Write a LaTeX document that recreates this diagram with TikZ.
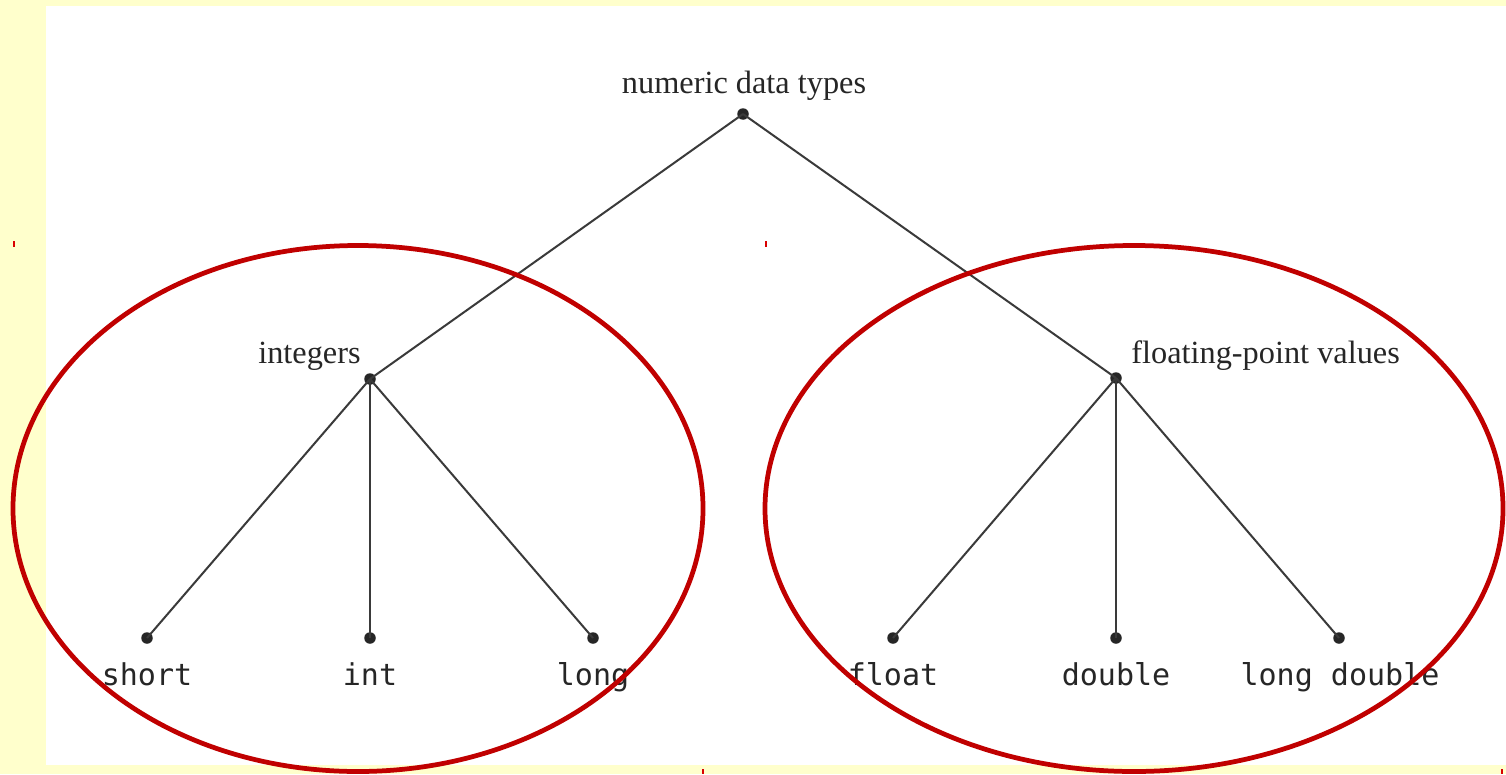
\documentclass[tikz,border=0pt]{standalone}
\usepackage{fontspec}
\setmainfont{Liberation Serif}
\newfontfamily\monof{DejaVu Sans Mono}
\definecolor{bgyellow}{HTML}{FFFFCC}
\definecolor{ovalred}{HTML}{C00000}
\definecolor{edgegray}{HTML}{3A3A3A}
\begin{document}
\begin{tikzpicture}[x=0.02cm,y=-0.02cm,
  dotnode/.style={circle,fill=black!85,inner sep=0pt,minimum size=0.23cm},
  edge/.style={draw=edgegray,line width=0.04cm},
  serlabel/.style={font=\fontsize{18.4}{20}\selectfont,inner sep=0pt,text=black!85},
  leaflabel/.style={font=\monof\fontsize{17.1}{19}\selectfont,inner sep=0pt,text=black!85,anchor=base},
  oval/.style={draw=ovalred,line width=0.095cm},
  tick/.style={draw=red!85!black,line width=0.04cm}]
\useasboundingbox (0,0) rectangle (1506,774);
\fill[bgyellow] (0,0) rectangle (1506,774);
\fill[white] (46,6) rectangle (1506,765);
% tiny marks
\draw[tick] (14,241) -- (14,247);
\draw[tick] (766,241) -- (766,247);
\draw[tick] (703,769) -- (703,774);
\draw[tick] (1502,769) -- (1502,774);
% dots
\node[dotnode] (root) at (743,114) {};
\node[dotnode] (ints) at (370,379) {};
\node[dotnode] (flts) at (1116,378) {};
\node[dotnode] (short) at (147,638) {};
\node[dotnode] (int) at (370,638) {};
\node[dotnode] (long) at (593,638) {};
\node[dotnode] (float) at (893,638) {};
\node[dotnode] (double) at (1116,638) {};
\node[dotnode] (ldouble) at (1339,638) {};
% edges
\draw[edge] (root.center) -- (ints.center);
\draw[edge] (root.center) -- (flts.center);
\draw[edge] (ints.center) -- (short.center);
\draw[edge] (ints.center) -- (int.center);
\draw[edge] (ints.center) -- (long.center);
\draw[edge] (flts.center) -- (float.center);
\draw[edge] (flts.center) -- (double.center);
\draw[edge] (flts.center) -- (ldouble.center);
% labels
\node[serlabel,anchor=base] (rootlbl) at (744,93) {numeric data types};
\node[serlabel,anchor=base east] (intslbl) at (361,363) {integers};
\node[serlabel,anchor=base west] (fltslbl) at (1131,363) {floating-point values};
\node[leaflabel] (shortlbl) at (147,685) {short};
\node[leaflabel] (intlbl) at (370,685) {int};
\node[leaflabel] (longlbl) at (593,685) {long};
\node[leaflabel] (floatlbl) at (893,685) {float};
\node[leaflabel] (doublelbl) at (1116,685) {double};
\node[leaflabel] (ldoublelbl) at (1340,685) {long double};
% ovals
\draw[oval] (358,508.5) ellipse [x radius=345, y radius=263];
\draw[oval] (1134,508.5) ellipse [x radius=369, y radius=263];
\end{tikzpicture}
\end{document}
